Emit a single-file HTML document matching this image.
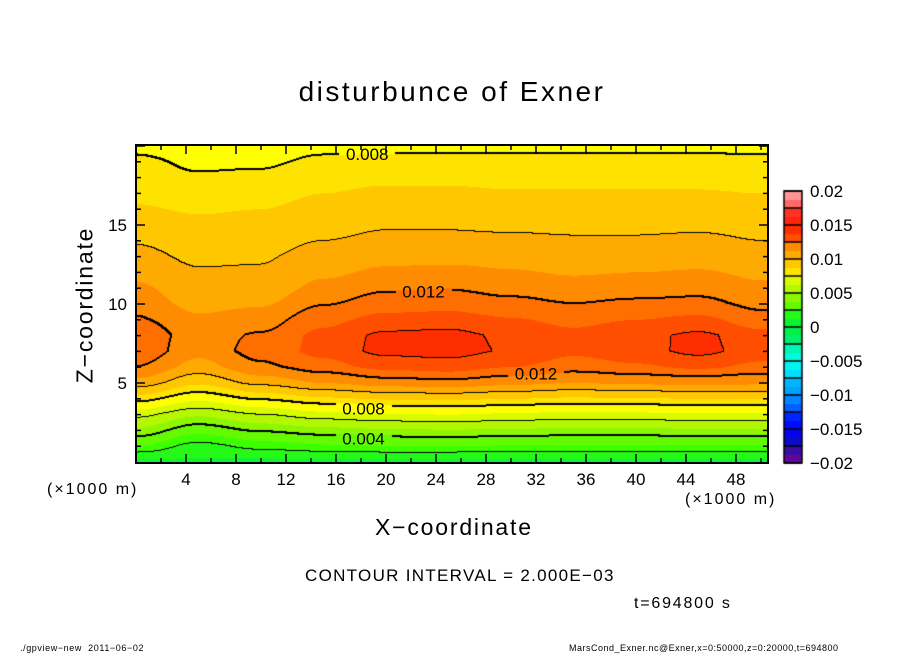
<!DOCTYPE html>
<html><head><meta charset="utf-8">
<style>
body{margin:0;background:#fff;width:904px;height:654px;overflow:hidden;position:relative;font-family:"Liberation Sans",sans-serif;}
.t{position:absolute;white-space:nowrap;color:#000;}
</style></head>
<body>
<div class="t" style="left:0;width:904px;text-align:center;top:76px;font-size:28px;letter-spacing:2.5px;">disturbunce of Exner</div>
<canvas id="cv" width="904" height="654" style="position:absolute;left:0;top:0"></canvas>
<svg id="sv" width="904" height="654" style="position:absolute;left:0;top:0"></svg>
<div class="t" style="left:47px;top:481px;font-size:16px;letter-spacing:2px;">(×1000 m)</div>
<div class="t" style="left:685px;top:491px;font-size:16px;letter-spacing:2px;">(×1000 m)</div>
<div class="t" style="left:375px;top:514px;font-size:23px;letter-spacing:1.8px;">X−coordinate</div>
<div class="t" style="left:85px;top:305px;font-size:23px;letter-spacing:1.8px;transform:translate(-50%,-50%) rotate(-90deg);">Z−coordinate</div>
<div class="t" style="left:305px;top:566px;font-size:17px;letter-spacing:1.3px;">CONTOUR INTERVAL = 2.000E−03</div>
<div class="t" style="left:634px;top:595px;font-size:16px;letter-spacing:1.8px;">t=694800 s</div>
<div class="t" style="left:20px;top:643px;font-size:9px;letter-spacing:0.6px;">./gpview−new&nbsp;&nbsp;2011−06−02</div>
<div class="t" style="left:569px;top:643px;font-size:9px;letter-spacing:0.5px;">MarsCond_Exner.nc@Exner,x=0:50000,z=0:20000,t=694800</div>
<script>
// ---- data ----
const xCoords=[0,5,10,15,20,25,30,35,40,45,50];
const zCoords=[0,1,2,3,4,5,6,7,8,9,10,11,12,13,14,15,16,17,18,19,20];
const col0 =[0.0005,0.003,0.0048,0.0063,0.0085,0.0106,0.012,0.0128,0.0128,0.0121,0.0116,0.0112,0.0107,0.0103,0.0099,0.0095,0.0091,0.0088,0.0085,0.0082,0.0077];
const col5 =[0.0008,0.0016,0.0034,0.0052,0.0073,0.0092,0.0106,0.0113,0.0115,0.0112,0.0107,0.0103,0.0101,0.0098,0.0095,0.0092,0.0089,0.0085,0.0081,0.0078,0.0075];
const col10=[0.0006,0.0024,0.0042,0.006,0.0082,0.0103,0.0118,0.0124,0.0121,0.0115,0.0109,0.0104,0.0101,0.0099,0.0096,0.0093,0.009,0.0087,0.0082,0.0078,0.0075];
const col15=[0.0005,0.0028,0.0046,0.0066,0.0088,0.011,0.0126,0.0133,0.0133,0.0127,0.0119,0.0113,0.0108,0.0104,0.01,0.0097,0.0093,0.009,0.0087,0.0082,0.0077];
const col20=[0.0005,0.003,0.0048,0.0069,0.0091,0.0115,0.0133,0.0143,0.0142,0.0134,0.0125,0.0118,0.0112,0.0107,0.0102,0.0099,0.0095,0.0092,0.0088,0.0083,0.0077];
const col25=[0.0005,0.003,0.0049,0.007,0.0092,0.0117,0.0135,0.0144,0.0143,0.0135,0.0126,0.0119,0.0113,0.0107,0.0102,0.0099,0.0095,0.0092,0.0088,0.0083,0.0077];
const col30=[0.0005,0.0029,0.0048,0.0068,0.009,0.0113,0.013,0.0139,0.0138,0.0131,0.0123,0.0116,0.0111,0.0106,0.0102,0.0098,0.0094,0.0091,0.0087,0.0083,0.0077];
const col35=[0.0005,0.0028,0.0047,0.0066,0.0088,0.011,0.0125,0.0132,0.0133,0.0127,0.012,0.0114,0.0109,0.0105,0.0101,0.0098,0.0094,0.0091,0.0087,0.0083,0.0077];
const col40=[0.0005,0.0028,0.0047,0.0067,0.0089,0.0112,0.0128,0.0136,0.0137,0.013,0.0122,0.0115,0.011,0.0105,0.0101,0.0098,0.0094,0.0091,0.0087,0.0083,0.0077];
const col45=[0.0005,0.0029,0.0048,0.0068,0.009,0.0113,0.0132,0.0143,0.0142,0.0133,0.0123,0.0116,0.0111,0.0106,0.0102,0.0098,0.0094,0.0091,0.0087,0.0083,0.0077];
const col50=[0.0005,0.0029,0.0048,0.0068,0.009,0.0112,0.0127,0.0135,0.0134,0.0124,0.0117,0.0112,0.0108,0.0104,0.01,0.0097,0.0093,0.009,0.0086,0.0082,0.0077];
const columns=[col0,col5,col10,col15,col20,col25,col30,col35,col40,col45,col50];
const xTicks=[4,8,12,16,20,24,28,32,36,40,44,48];
const zTicks=[5,10,15];
const cbTicks=[0.02,0.015,0.01,0.005,0,-0.005,-0.01,-0.015,-0.02];
const cbTickLabels=["0.02","0.015","0.01","0.005","0","−0.005","−0.01","−0.015","−0.02"];
const contourLevels=[0.002,0.004,0.006,0.008,0.010,0.012,0.014];
const contourLabels=[["0.008",18.5,19.5],["0.012",23,10.8],["0.012",32,5.6],["0.008",18.2,3.4],["0.004",18.2,1.5]];

// ---- scales ----
const PX0=136,PX1=768,PY0=145,PY1=463;
const sx=x=>136+x*12.5, sz=z=>462-z*15.8;
const ix=px=>(px-136)/12.5, iz=py=>(462-py)/15.8;
const sm=f=>f*f*(3-2*f);
function field(x,z){
  x=Math.max(0,Math.min(50,x)); z=Math.max(0,Math.min(20,z));
  let i=Math.min(xCoords.length-2,Math.floor(x/5)); let fx=sm((x-xCoords[i])/(xCoords[i+1]-xCoords[i]));
  let j=Math.min(zCoords.length-2,Math.floor(z)); let fz=z-zCoords[j];
  const a=columns[i][j],b=columns[i+1][j],c=columns[i][j+1],d=columns[i+1][j+1];
  return (a*(1-fx)+b*fx)*(1-fz)+(c*(1-fx)+d*fx)*fz;
}
const stops=[[-0.02,[120,0,160]],[-0.0175,[20,20,160]],[-0.015,[0,0,255]],[-0.0125,[0,60,255]],[-0.01,[0,150,255]],[-0.0075,[0,200,255]],[-0.005,[0,255,240]],[-0.0025,[0,240,140]],[0,[0,240,60]],[0.0025,[60,255,0]],[0.005,[160,245,0]],[0.0075,[255,255,0]],[0.01,[255,185,0]],[0.0125,[255,110,0]],[0.015,[255,30,0]],[0.0175,[255,60,60]],[0.02,[255,170,170]]];
function color(v){
  v=Math.floor(v/0.001)*0.001+0.0005;
  if(v<=stops[0][0])return stops[0][1];
  for(let k=1;k<stops.length;k++){if(v<=stops[k][0]){const [a,ca]=stops[k-1],[b,cb]=stops[k];const f=(v-a)/(b-a);return ca.map((c,i)=>Math.round(c+(cb[i]-c)*f));}}
  return stops[stops.length-1][1];
}
const cv=document.getElementById('cv'),ctx=cv.getContext('2d');
const W=PX1-PX0,H=PY1-PY0;
const img=ctx.createImageData(W,H);
const vals=new Float32Array(W*H);
for(let py=0;py<H;py++)for(let px=0;px<W;px++)vals[py*W+px]=field(ix(PX0+px+0.5),iz(PY0+py+0.5));
const lvl=v=>{let n=0;for(const L of contourLevels)if(v>=L)n++;return n;};
for(let py=0;py<H;py++)for(let px=0;px<W;px++){
  const v=vals[py*W+px];let c=color(v);
  const l=lvl(v);
  let edge=false;
  if(px+1<W&&lvl(vals[py*W+px+1])!==l)edge=true;
  if(py+1<H&&lvl(vals[(py+1)*W+px])!==l)edge=true;
  if(!edge){
    const thick=[0.004,0.008,0.012];
    for(const L of thick){const s=v>=L;
      if(px+2<W&&(vals[py*W+px+2]>=L)!==s)edge=true;
      if(py+2<H&&(vals[(py+2)*W+px]>=L)!==s)edge=true;}
  }
  if(edge)c=[0,0,0];
  const o=(py*W+px)*4;img.data[o]=c[0];img.data[o+1]=c[1];img.data[o+2]=c[2];img.data[o+3]=255;
}
ctx.putImageData(img,PX0,PY0);
// colorbar
const CB0=191,CB1=463,CBX=784,CBW=18;
const cy=v=>CB1-(v+0.02)/0.04*(CB1-CB0);
for(let v=-0.02;v<0.02-1e-9;v+=0.00125){
  const c=color(v+0.0006);ctx.fillStyle=`rgb(${c})`;
  ctx.fillRect(CBX,cy(v+0.00125),CBW,cy(v)-cy(v+0.00125)+0.5);
}
ctx.strokeStyle='#000';ctx.lineWidth=1.5;
for(let k=0;k<=16;k++){const y=cy(-0.02+k*0.0025);ctx.beginPath();ctx.moveTo(CBX,y);ctx.lineTo(CBX+CBW,y);ctx.stroke();}
ctx.strokeRect(CBX,CB0,CBW,CB1-CB0);
// clear lines under contour labels
contourLabels.forEach(([s,x,z])=>{const px=Math.round(sx(x)),py=Math.round(sz(z));const col=color(field(x,z));
  const d=ctx.getImageData(px-28,py-8,56,16);
  for(let k=0;k<d.data.length;k+=4){if(d.data[k]<10&&d.data[k+1]<10){d.data[k]=col[0];d.data[k+1]=col[1];d.data[k+2]=col[2];}}
  ctx.putImageData(d,px-28,py-8);});

// ---- svg overlay ----
const NS='http://www.w3.org/2000/svg',sv=document.getElementById('sv');
function mk(tag,attrs,parent){const e=document.createElementNS(NS,tag);for(const k in attrs)e.setAttribute(k,attrs[k]);(parent||sv).appendChild(e);return e;}
const frame=mk('rect',{x:PX0,y:PY0,width:W,height:H,fill:'none',stroke:'#000','stroke-width':2});


for(let x=1;x<=50;x++){const L=(x%4===0)?9:(x%2===0?5:0);if(!L)continue;
  mk('line',{x1:sx(x),x2:sx(x),y1:PY1,y2:PY1-L,stroke:'#000','stroke-width':1.5});
  mk('line',{x1:sx(x),x2:sx(x),y1:PY0,y2:PY0+L,stroke:'#000','stroke-width':1.5});}
for(let z=1;z<=20;z++){const L=(z%5===0)?9:5;
  mk('line',{x1:PX0,x2:PX0+L,y1:sz(z),y2:sz(z),stroke:'#000','stroke-width':1.5});
  mk('line',{x1:PX1,x2:PX1-L,y1:sz(z),y2:sz(z),stroke:'#000','stroke-width':1.5});}
xTicks.forEach(x=>{const t=mk('text',{x:sx(x),y:485,'text-anchor':'middle','font-size':17,'font-family':'Liberation Sans, sans-serif'});t.textContent=x;
  
  });
zTicks.forEach(z=>{const t=mk('text',{x:127,y:sz(z)+6,'text-anchor':'end','font-size':17,'font-family':'Liberation Sans, sans-serif'});t.textContent=z;
  
  });
cbTicks.forEach((v,i)=>{const t=mk('text',{x:810,y:cy(v)+6,'font-size':17,'font-family':'Liberation Sans, sans-serif'});t.textContent=cbTickLabels[i];
  
  });
contourLabels.forEach(([s,x,z])=>{
  const t=mk('text',{x:sx(x),y:sz(z)+6,'text-anchor':'middle','font-size':17,'font-family':'Liberation Sans, sans-serif'});t.textContent=s;
  
  
});
</script>
</body></html>
